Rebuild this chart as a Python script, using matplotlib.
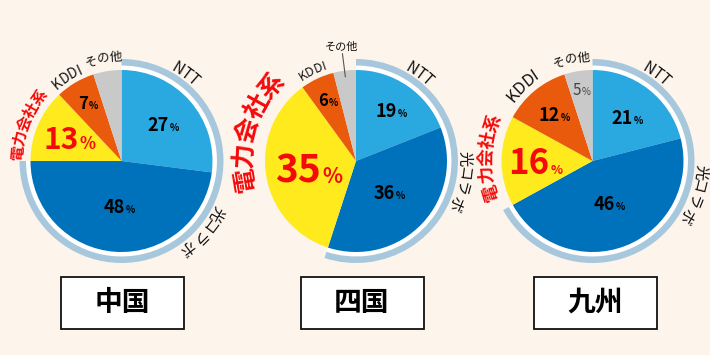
import math
import matplotlib
matplotlib.use("Agg")
import matplotlib.pyplot as plt
from matplotlib.patches import Wedge, Rectangle

plt.rcParams['font.family'] = ['Noto Sans CJK JP', 'DejaVu Sans']

# ---------------- data ----------------
regions = ["中国", "四国", "九州"]
categories = ["NTT", "光コラボ", "電力会社系", "KDDI", "その他"]
share_chugoku = [27, 48, 13, 7, 5]
share_shikoku = [19, 36, 35, 6, 4]
share_kyushu = [21, 46, 16, 12, 5]
shares = [share_chugoku, share_shikoku, share_kyushu]
# which slices show a percentage label inside the pie
show_pct = [[True, True, True, True, False],
            [True, True, True, True, False],
            [True, True, True, True, True]]

# ---------------- style ----------------
W, H = 710, 355
BG = "#fdf5ec"
colors = ["#2aa8e0", "#0071bb", "#feea1d", "#e95a0c", "#c9c9c9"]
RING = "#a7c8dc"
RED = "#f50a0a"

centers_x = [121.5, 356, 592.5]
center_y = 161
R = 91
box_cx = [122, 362, 595.5]

fig = plt.figure(figsize=(W / 100, H / 100), dpi=100, facecolor=BG)
ax = fig.add_axes([0, 0, 1, 1])
ax.set_facecolor(BG)
renderer = fig.canvas.get_renderer()


def Y(py):
    return H - py


def text_w(ch, size, weight):
    t = ax.text(0, 0, ch, fontsize=size, weight=weight)
    w = t.get_window_extent(renderer).width
    t.remove()
    return w


def curved(s, cx, cy, r, phi_c, size, color, weight="normal", spacing=1.0):
    widths = [text_w(ch, size, weight) * spacing for ch in s]
    total = sum(widths)
    ang = phi_c - math.degrees(total / 2 / r)
    for ch, w in zip(s, widths):
        a = ang + math.degrees(w / 2 / r)
        x = cx + r * math.sin(math.radians(a))
        y = cy + r * math.cos(math.radians(a))
        ax.text(x, y, ch, rotation=-a, rotation_mode="anchor", ha="center",
                va="center", fontsize=size, color=color, weight=weight)
        ang += math.degrees(w / r)


def pct_label(x, y, num, size_n, size_p, color, weight="bold"):
    wn = text_w(num, size_n, weight)
    wp = text_w("%", size_p, weight)
    left = x - (wn + wp) / 2
    base = y - 0.36 * size_n * 100 / 72
    ax.text(left, base, num, ha="left", va="baseline", fontsize=size_n,
            color=color, weight=weight)
    ax.text(left + wn + 1, base, "%", ha="left", va="baseline", fontsize=size_p,
            color=color, weight=weight)


# per-chart label styles
pct_radius = [0.61, 0.5, 0.63, 0.74, 0.79]
num_sizes = [
    [13, 13, 21.5, 12, 11],
    [13, 13, 28, 12, 11],
    [13, 13, 25, 13, 11],
]
pct_sizes = [
    [7, 7, 12, 7, 7],
    [7, 7, 15, 7, 7],
    [7, 7, 9, 7, 7],
]
red_sizes = [11, 18, 12.5]
red_radius = [104, 112, 106]
kddi_sizes = [10, 9, 12]
kddi_radius = [100, 100, 103]
other_sizes = [9, 8, 9]

for i, vals in enumerate(shares):
    cx = centers_x[i]
    cy = Y(center_y)
    total = sum(vals)
    frac = (vals[0] + vals[1]) / total
    # white gap under the ring
    ax.add_patch(Wedge((cx, cy), 95.5, 90 - frac * 360, 90, width=5,
                       facecolor="white", edgecolor="none", zorder=0.5))
    ax.pie(vals, colors=colors, startangle=90, counterclock=False,
           center=(cx, cy), radius=R, wedgeprops=dict(linewidth=0))
    # ring around NTT + 光コラボ
    ax.add_patch(Wedge((cx, cy), 102, 90 - frac * 360, 90, width=6.5,
                       facecolor=RING, edgecolor="none"))
    # slice angles (clockwise from top)
    cum = 0
    mids = []
    for v in vals:
        mids.append((cum + v / 2) / total * 360)
        cum += v
    # percentage labels
    for k, v in enumerate(vals):
        if not show_pct[i][k]:
            continue
        rr = pct_radius[k] * R
        if i == 1 and k == 2:
            rr = 0.53 * R
        if i == 1 and k == 0:
            rr = 0.67 * R
        if i == 2 and k == 3:
            rr = 0.67 * R
        a = math.radians(mids[k])
        x = cx + rr * math.sin(a)
        y = cy + rr * math.cos(a)
        if k == 2:
            pct_label(x, y, str(v), num_sizes[i][k], pct_sizes[i][k], RED)
        elif k == 4:
            pct_label(x, y, str(v), num_sizes[i][k], 7, "#444444", weight="normal")
        else:
            pct_label(x, y, str(v), num_sizes[i][k], pct_sizes[i][k], "black")
    # curved category labels
    curved(categories[0], cx, cy, 108, 36, 11, "#111111")
    kora_c = [131, 101, 108][i]
    curved(categories[1], cx, cy, 108, kora_c, 11, "#111111")
    red_c = [291, 286, 272][i]
    curved(categories[2], cx, cy, red_radius[i], red_c, red_sizes[i], RED, weight="bold")
    kddi_c = [327, 334, 317][i]
    curved(categories[3], cx, cy, kddi_radius[i], kddi_c, kddi_sizes[i], "#111111")
    if i == 1:
        ax.text(342, Y(47), categories[4], ha="center", va="center",
                fontsize=other_sizes[i], color="#111111")
        a = math.radians(mids[4])
        ax.plot([cx + 85 * math.sin(a), cx + 108 * math.sin(a)],
                [cy + 85 * math.cos(a), cy + 108 * math.cos(a)],
                color="#555555", lw=0.8)
    else:
        curved(categories[4], cx, cy, 104, [350, 348][i // 2], other_sizes[i], "#111111")

    # region box
    bx = box_cx[i]
    ax.add_patch(Rectangle((bx - 61.5, Y(329)), 123, 52, facecolor="white",
                           edgecolor="#111111", linewidth=1.3))
    ax.text(bx, Y(303), regions[i], ha="center", va="center", fontsize=20,
            weight="bold", color="black")

ax.set_xlim(0, W)
ax.set_ylim(0, H)
ax.set_aspect("equal")
ax.axis("off")
fig.savefig("out.png", dpi=100, facecolor=BG)
